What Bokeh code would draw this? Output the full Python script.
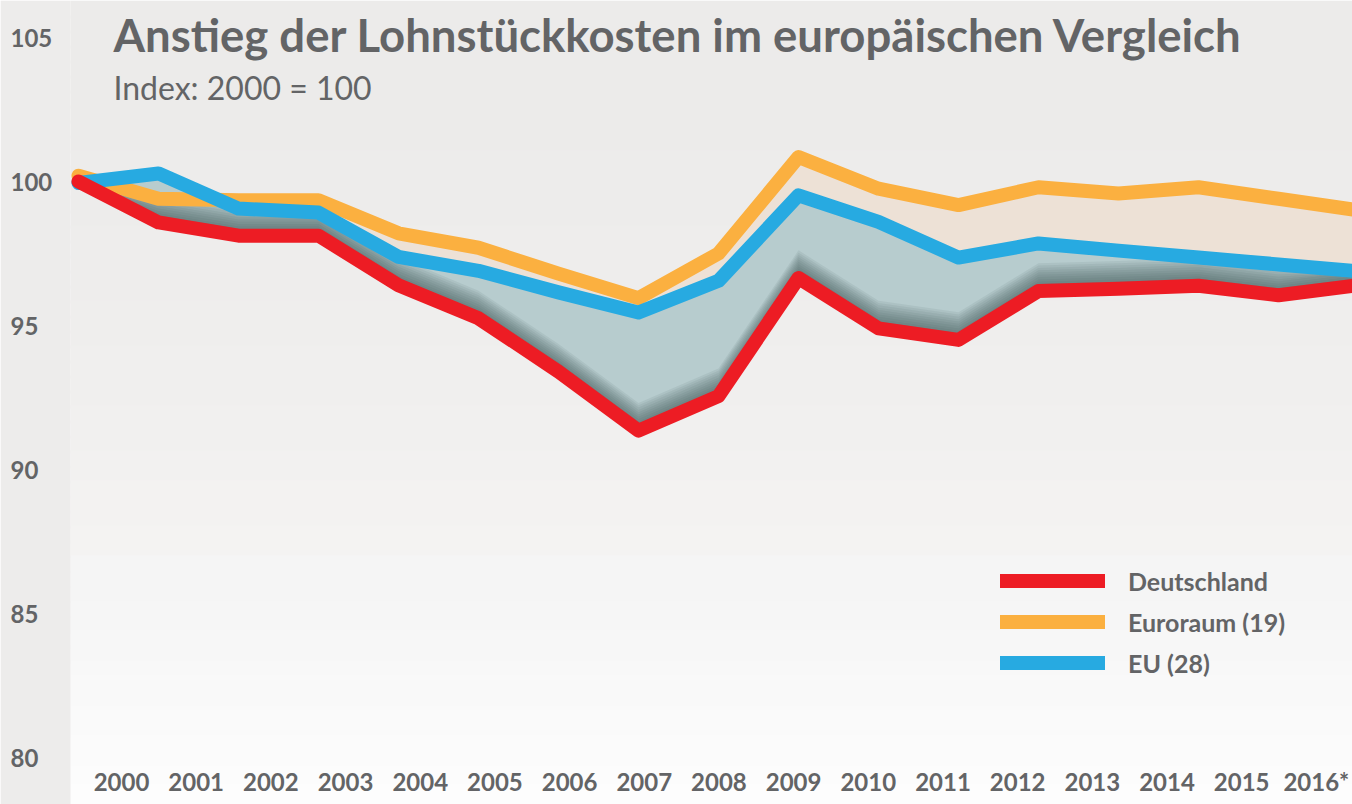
import numpy as np
from bokeh.plotting import figure
from bokeh.models import Range1d, LinearAxis, FixedTicker, Legend, LegendItem, Label
from bokeh.embed import file_html
from bokeh.resources import INLINE

# ---------------- data ----------------
years = list(range(2000, 2017))
x_labels = ["2000", "2001", "2002", "2003", "2004", "2005", "2006", "2007", "2008",
            "2009", "2010", "2011", "2012", "2013", "2014", "2015", "2016*"]
deutschland = [100.0, 98.58, 98.12, 98.12, 96.4, 95.25, 93.4, 91.35, 92.55,
               96.65, 94.9, 94.5, 96.2, 96.28, 96.38, 96.05, 96.4]
euroraum = [100.2, 99.4, 99.35, 99.35, 98.2, 97.7, 96.8, 95.95, 97.5,
            100.85, 99.75, 99.18, 99.8, 99.58, 99.8, 99.4, 99.0]
eu = [99.95, 100.28, 99.06, 98.92, 97.38, 96.9, 96.15, 95.45, 96.55,
      99.52, 98.6, 97.36, 97.85, 97.6, 97.36, 97.12, 96.88]
series_names = ["Deutschland", "Euroraum (19)", "EU (28)"]
y_ticks = [80, 85, 90, 95, 100, 105]

title_text = "Anstieg der Lohnstückkosten im europäischen Vergleich"
subtitle_text = "Index: 2000 = 100"

# ---------------- layout / style ----------------
W, H = 1352, 804
X0_PX, X_STEP = 78.0, 80.0        # pixel of year 2000, pixels per year
Y100_PX, Y_STEP = 181.0, 28.8     # pixel of value 100, pixels per unit
LAB0_PX, LAB_STEP = 121.0, 74.68  # label row: pixel of first label, spacing

x_start = 2000 - X0_PX / X_STEP
x_end = 2000 + (W - X0_PX) / X_STEP
y_end = 100 + Y100_PX / Y_STEP
y_start = 100 - (H - Y100_PX) / Y_STEP


def px_x(px):
    return x_start + px / X_STEP


def px_y(py):
    return y_end - py / Y_STEP


GRAY = "#636466"
RED = "#ed1c24"
ORANGE = "#fbb040"
BLUE = "#27aae1"
BEIGE = "#ede1d6"
TEAL = "#b7ccce"
FONT = "Lato"

p = figure(width=W, height=H,
           x_range=Range1d(x_start, x_end), y_range=Range1d(y_start, y_end),
           x_axis_type=None, y_axis_type=None,
           toolbar_location=None, output_backend="svg",
           min_border=0, outline_line_color=None,
           background_fill_color="#fdfdfd", border_fill_color="#fdfdfd")

# background gradient bands (each overlaps the next to hide seams)
knots_py = [0, 150, 300, 450, 600, 760, 804]
knots_c = [236, 237, 239, 242, 246, 252, 253]
edges = np.linspace(0, 780, 53)
mids = (edges[:-1] + edges[1:]) / 2
vals = np.interp(mids, knots_py, knots_c)
cols = ["#%02x%02x%02x" % (int(v), int(v) - 1 if v < 245 else int(v), int(v) - 2 if v < 245 else int(v)) for v in vals]
p.quad(left=px_x(70), right=x_end, top=[px_y(t) for t in edges[:-1]],
       bottom=[px_y(b + 3) for b in edges[1:]], color=cols, line_color=None)
# left strip
p.quad(left=x_start, right=px_x(70), top=y_end, bottom=y_start,
       color="#edeceb", line_color=None)

d = np.array(deutschland)
e = np.array(euroraum)
u = np.array(eu)

# filled bands
p.varea(x=years, y1=u, y2=np.maximum(e, u), color=BEIGE)
p.varea(x=years, y1=d, y2=u, color=TEAL)
# soft shadow above the red line
n_layers = 12
for k in range(1, n_layers + 1):
    p.varea(x=years, y1=d, y2=np.minimum(d + 0.08 * k, u),
            color="#3a4c50", alpha=0.085)

r_e = p.line(years, euroraum, line_width=14, color=ORANGE, line_cap="round", line_join="round")
r_u = p.line(years, eu, line_width=14, color=BLUE, line_cap="round", line_join="round")
r_d = p.line(years, deutschland, line_width=14, color=RED, line_cap="round", line_join="round")

# y axis (labels inside left strip)
yax = LinearAxis(ticker=FixedTicker(ticks=y_ticks), fixed_location=px_x(2))
yax.axis_line_color = None
yax.major_tick_line_color = None
yax.minor_tick_line_color = None
yax.major_tick_out = 0
yax.major_tick_in = 0
yax.major_label_standoff = 8
yax.major_label_text_font = FONT
yax.major_label_text_font_style = "bold"
yax.major_label_text_font_size = "24px"
yax.major_label_text_color = GRAY
p.add_layout(yax, "right")

# x axis (year labels)
p.extra_x_ranges = {"lab": Range1d(2000 - LAB0_PX / LAB_STEP, 2000 + (W - LAB0_PX) / LAB_STEP)}
xax = LinearAxis(x_range_name="lab", ticker=FixedTicker(ticks=years),
                 major_label_overrides=dict(zip(years, x_labels)),
                 fixed_location=px_y(766))
xax.axis_line_color = None
xax.major_tick_line_color = None
xax.minor_tick_line_color = None
xax.major_tick_out = 0
xax.major_tick_in = 0
xax.major_label_standoff = 0
xax.major_label_text_font = FONT
xax.major_label_text_font_style = "bold"
xax.major_label_text_font_size = "24px"
xax.major_label_text_color = GRAY
p.add_layout(xax, "below")

# legend
legend = Legend(items=[LegendItem(label=series_names[0], renderers=[r_d]),
                       LegendItem(label=series_names[1], renderers=[r_e]),
                       LegendItem(label=series_names[2], renderers=[r_u])],
                location=(1000, 121), orientation="vertical",
                padding=0, margin=0, spacing=0,
                glyph_width=105, glyph_height=41, label_height=41,
                label_standoff=23,
                label_text_font=FONT, label_text_font_style="bold",
                label_text_font_size="25px", label_text_color=GRAY,
                border_line_alpha=0, background_fill_alpha=0)
p.add_layout(legend, "center")

# titles
p.add_layout(Label(x=113, y=H - 34, x_units="screen", y_units="screen",
                   text=title_text, text_font=FONT, text_font_style="bold",
                   text_font_size="45.5px", text_color=GRAY, text_baseline="alphabetic"))
p.add_layout(Label(x=113, y=H - 87, x_units="screen", y_units="screen",
                   text=subtitle_text, text_font=FONT,
                   text_font_size="32px", text_color=GRAY, text_baseline="alphabetic"))

open("out.html", "w").write(file_html(p, INLINE))
